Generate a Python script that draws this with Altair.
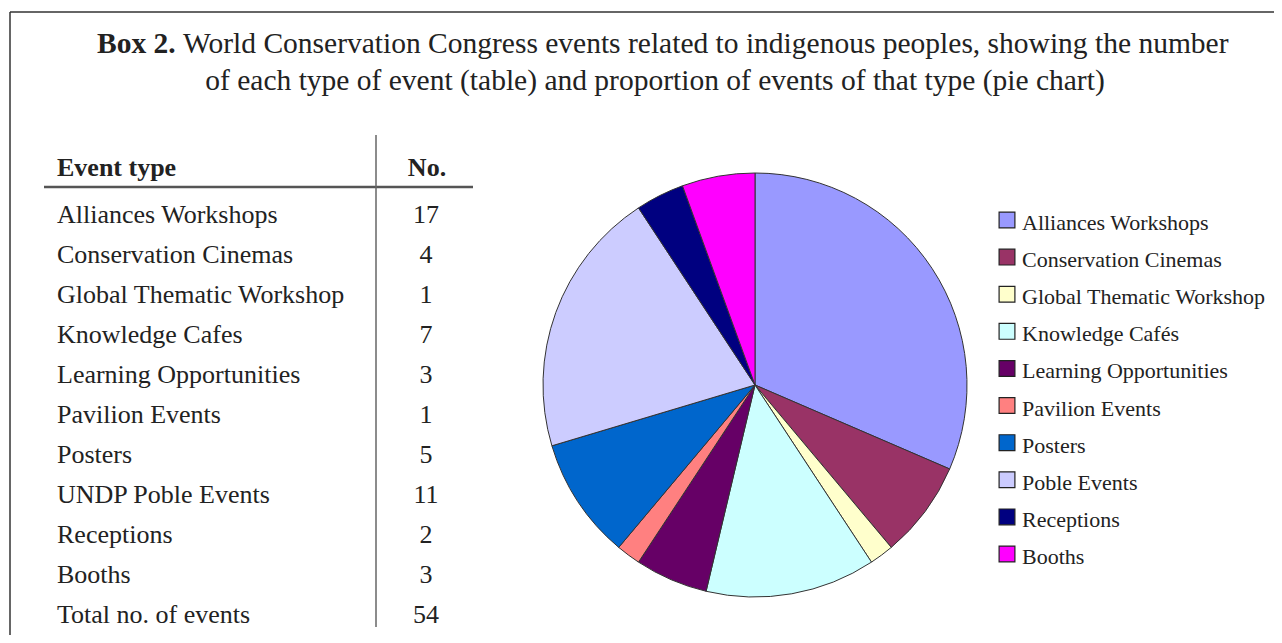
import altair as alt
import pandas as pd

# ---- data ----
table_labels = ["Alliances Workshops", "Conservation Cinemas", "Global Thematic Workshop",
                "Knowledge Cafes", "Learning Opportunities", "Pavilion Events", "Posters",
                "UNDP Poble Events", "Receptions", "Booths", "Total no. of events"]
table_values = [17, 4, 1, 7, 3, 1, 5, 11, 2, 3, 54]

legend_labels = ["Alliances Workshops", "Conservation Cinemas", "Global Thematic Workshop",
                 "Knowledge Cafés", "Learning Opportunities", "Pavilion Events", "Posters",
                 "Poble Events", "Receptions", "Booths"]
pie_values = [17, 4, 1, 7, 3, 1, 5, 11, 2, 3]
colors = ["#9999FF", "#993366", "#FFFFCC", "#CCFFFF", "#660066",
          "#FF8080", "#0066CC", "#CCCCFF", "#000080", "#FF00FF"]

title_bold = "Box 2."
title_line1 = "World Conservation Congress events related to indigenous peoples, showing the number"
title_line2 = "of each type of event (table) and proportion of events of that type (pie chart)"

FONT = "Liberation Serif"
INK = "#222222"

pie_df = pd.DataFrame({"label": legend_labels, "value": pie_values,
                       "idx": list(range(len(legend_labels)))})
tab_df = pd.DataFrame({"name": table_labels, "num": [str(v) for v in table_values],
                       "row": list(range(len(table_labels)))})
one = pd.DataFrame({"a": [0]})

color_scale = alt.Scale(domain=legend_labels, range=colors)

# ---- pie ----
pie = alt.Chart(pie_df).mark_arc(radius=212, stroke="#333333", strokeWidth=1).encode(
    theta=alt.Theta("value:Q", stack=True),
    order=alt.Order("idx:Q", sort="ascending"),
    color=alt.Color("label:N", scale=color_scale, legend=None),
    x=alt.value(747), y=alt.value(377),
)

# ---- legend (manual) ----
leg_sq = alt.Chart(pie_df).mark_square(size=250, stroke="#222222", strokeWidth=1.2,
                                       opacity=1, filled=True).encode(
    x=alt.value(999),
    y=alt.Y("idx:Q", scale=alt.Scale(domain=[0, 9], range=[212, 546]), axis=None),
    color=alt.Color("label:N", scale=color_scale, legend=None),
)
leg_tx = alt.Chart(pie_df).mark_text(align="left", baseline="alphabetic", font=FONT,
                                     fontSize=22, color=INK).encode(
    x=alt.value(1014),
    y=alt.Y("idx:Q", scale=alt.Scale(domain=[0, 9], range=[222, 556]), axis=None),
    text="label:N",
)

# ---- table ----
row_y = alt.Y("row:Q", scale=alt.Scale(domain=[0, 10], range=[215, 615]), axis=None)
tab_names = alt.Chart(tab_df).mark_text(align="left", baseline="alphabetic", font=FONT,
                                        fontSize=26, color=INK).encode(
    x=alt.value(49), y=row_y, text="name:N")
tab_nums = alt.Chart(tab_df).mark_text(align="center", baseline="alphabetic", font=FONT,
                                       fontSize=26, color=INK).encode(
    x=alt.value(418), y=row_y, text="num:N")
hdr1 = alt.Chart(one).mark_text(align="left", baseline="alphabetic", font=FONT, fontSize=26,
                                fontWeight="bold", color=INK).encode(
    x=alt.value(49), y=alt.value(168), text=alt.value("Event type"))
hdr2 = alt.Chart(one).mark_text(align="center", baseline="alphabetic", font=FONT, fontSize=26,
                                fontWeight="bold", color=INK).encode(
    x=alt.value(419), y=alt.value(168), text=alt.value("No."))
hrule = alt.Chart(one).mark_rule(color="#555555", strokeWidth=2.5).encode(
    x=alt.value(36), x2=alt.value(465), y=alt.value(179))
vrule = alt.Chart(one).mark_rule(color="#666666", strokeWidth=1.5).encode(
    x=alt.value(368), y=alt.value(127), y2=alt.value(619))

# ---- frame ----
ftop = alt.Chart(one).mark_rule(color="#333333", strokeWidth=1.5).encode(
    x=alt.value(2), x2=alt.value(1266), y=alt.value(4))
fleft = alt.Chart(one).mark_rule(color="#333333", strokeWidth=1.5).encode(
    x=alt.value(2), y=alt.value(4), y2=alt.value(627))

# ---- title ----
t_bold = alt.Chart(one).mark_text(align="left", baseline="alphabetic", font=FONT, fontSize=29.5,
                                  fontWeight="bold", color=INK).encode(
    x=alt.value(89), y=alt.value(45), text=alt.value(title_bold))
t_l1 = alt.Chart(one).mark_text(align="left", baseline="alphabetic", font=FONT, fontSize=29.5,
                                color=INK).encode(
    x=alt.value(175), y=alt.value(45), text=alt.value(title_line1))
t_l2 = alt.Chart(one).mark_text(align="center", baseline="alphabetic", font=FONT, fontSize=29.5,
                                color=INK).encode(
    x=alt.value(647), y=alt.value(82), text=alt.value(title_line2))

chart = alt.layer(
    ftop, fleft, t_bold, t_l1, t_l2,
    hdr1, hdr2, hrule, vrule, tab_names, tab_nums,
    pie, leg_sq, leg_tx,
).resolve_scale(
    y="independent", x="independent"
).properties(
    width=1266, height=627, padding=0,
    autosize=alt.AutoSizeParams(type="fit", contains="padding"),
).configure_view(stroke=None)

chart.save("out.html", embed_options={"renderer": "svg", "actions": False})
